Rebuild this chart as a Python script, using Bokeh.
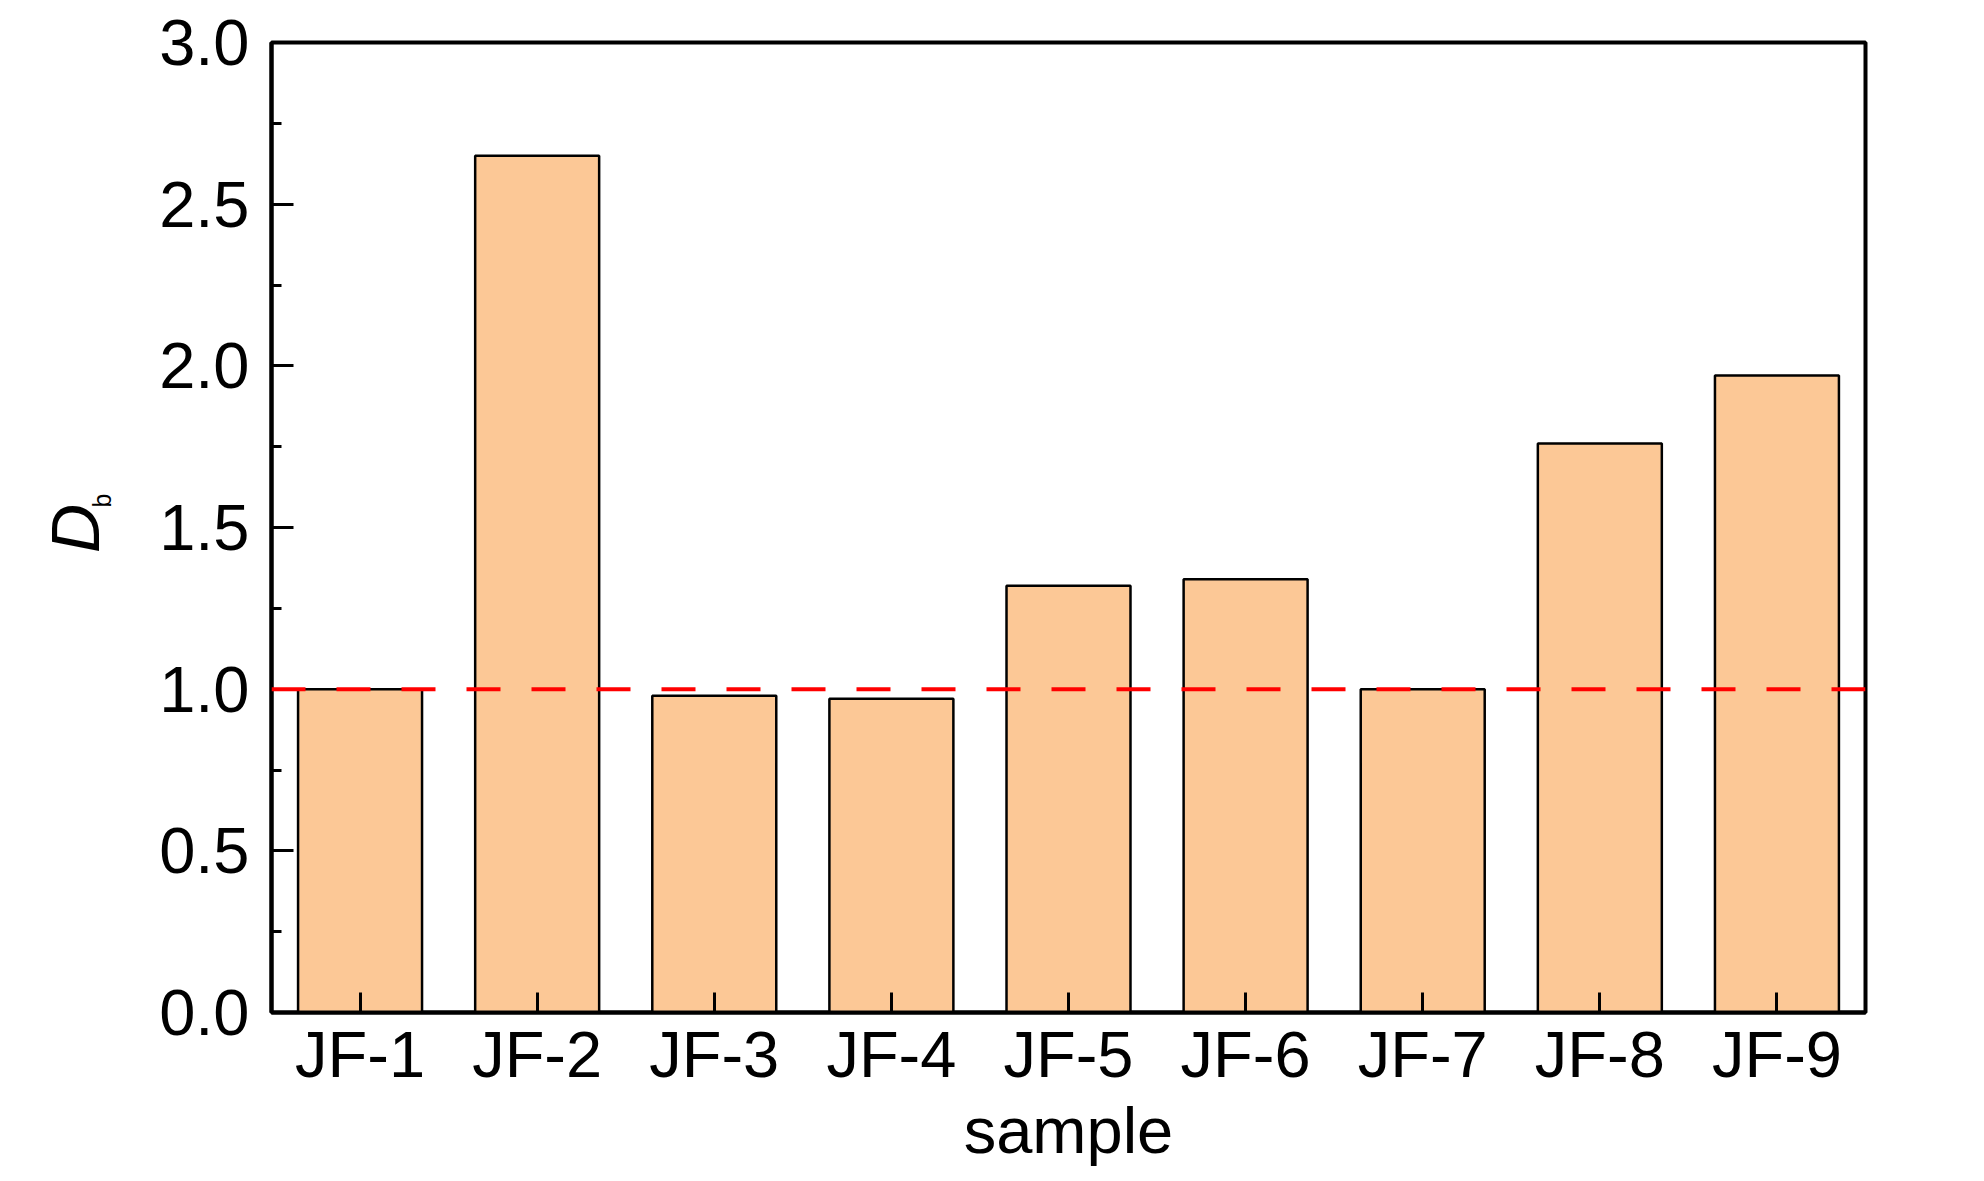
from bokeh.plotting import figure
from bokeh.models import Range1d, FactorRange, Span, Label, FixedTicker, PrintfTickFormatter
from bokeh.embed import file_html
from bokeh.resources import INLINE
import math

samples = ["JF-1", "JF-2", "JF-3", "JF-4", "JF-5", "JF-6", "JF-7", "JF-8", "JF-9"]
db_values = [1.00, 2.65, 0.98, 0.97, 1.32, 1.34, 1.00, 1.76, 1.97]
y_ticks = [0.0, 0.5, 1.0, 1.5, 2.0, 2.5, 3.0]
y_minor_ticks = [0.25, 0.75, 1.25, 1.75, 2.25, 2.75]
threshold = 1.0

FONT = "Liberation Sans"

p = figure(
    width=1960, height=1170,
    x_range=FactorRange(factors=samples),
    y_range=Range1d(0, 3),
    output_backend="svg", toolbar_location=None,
    min_border_left=271, min_border_right=95,
    min_border_top=42, min_border_bottom=158,
)
p.background_fill_color = "white"
p.border_fill_color = "white"
p.grid.visible = False
p.outline_line_color = "black"
p.outline_line_width = 4

p.vbar(x=samples, top=db_values, width=0.7, bottom=0,
       fill_color="#FCC896", line_color="black", line_width=2.5)

p.add_layout(Span(location=threshold, dimension="width",
                  line_color="#FF0000", line_width=4, line_dash="34 31"))

for ax in (p.xaxis[0], p.yaxis[0]):
    ax.axis_line_width = 4
    ax.axis_line_color = "black"
    ax.major_tick_line_width = 3
    ax.major_tick_line_color = "black"
    ax.minor_tick_line_width = 3
    ax.major_label_text_font = FONT
    ax.major_label_text_font_size = "65px"
    ax.major_label_text_color = "black"

p.xaxis.major_tick_in = 20
p.xaxis.major_tick_out = 0
p.xaxis.major_label_standoff = 5
p.xaxis.axis_label = "sample"
p.xaxis.axis_label_text_font = FONT
p.xaxis.axis_label_text_font_size = "65px"
p.xaxis.axis_label_text_font_style = "normal"
p.xaxis.axis_label_text_color = "black"
p.xaxis.axis_label_standoff = 0

p.yaxis.ticker = FixedTicker(ticks=y_ticks, minor_ticks=y_minor_ticks)
p.yaxis.formatter = PrintfTickFormatter(format="%.1f")
p.yaxis.major_tick_in = 22
p.yaxis.major_tick_out = 0
p.yaxis.minor_tick_in = 10
p.yaxis.minor_tick_out = 0
p.yaxis.minor_tick_line_color = "black"
p.yaxis.major_label_standoff = 22

# y axis label: italic D with subscript b, placed in the left panel (not clipped)
p.add_layout(Label(x=74, y=528, x_units="canvas", y_units="canvas",
                   text="D", angle=math.pi / 2, text_align="center",
                   text_baseline="alphabetic", text_font=FONT,
                   text_font_style="italic", text_font_size="68px",
                   text_color="black"), "left")
p.add_layout(Label(x=101, y=500, x_units="canvas", y_units="canvas",
                   text="b", angle=math.pi / 2, text_align="center",
                   text_baseline="alphabetic", text_font=FONT,
                   text_font_size="25px", text_color="black"), "left")

open("out.html", "w").write(file_html(p, INLINE))
